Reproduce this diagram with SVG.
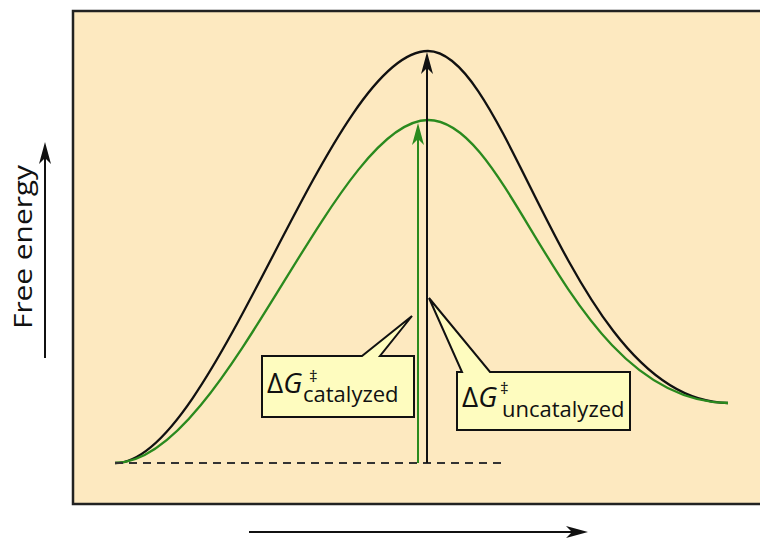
<svg xmlns="http://www.w3.org/2000/svg" width="760" height="538" viewBox="0 0 760 538">
<style>
.curve{fill:none;stroke-width:2.3}
.blk{stroke:#111}
.grn{stroke:#2a8a1e}
.box{fill:#fefcbf;stroke:#111;stroke-width:2;stroke-linejoin:miter}
.lbl{font-family:"Open Sans","Noto Sans","DejaVu Sans",sans-serif;fill:#111}
.axis{stroke:#111;stroke-width:2;fill:none}
</style>
<defs>
<marker id="ahBlack" markerUnits="userSpaceOnUse" viewBox="-24 -8 28 16" refX="-4" refY="0" markerWidth="28" markerHeight="16" orient="auto">
<path d="M0,0 L-22,-6 L-16,0 L-22,6 Z" fill="#111"/>
</marker>
<marker id="ahGreen" markerUnits="userSpaceOnUse" viewBox="-24 -8 28 16" refX="-4" refY="0" markerWidth="28" markerHeight="16" orient="auto">
<path d="M0,0 L-22,-6 L-16,0 L-22,6 Z" fill="#2a8a1e"/>
</marker>
</defs>
<rect width="760" height="538" fill="#ffffff"/>
<g id="panel">
<rect x="73" y="11" width="700" height="493" fill="#fde9c0" stroke="#222" stroke-width="2.5"/>
</g>
<g id="uncatalyzed-curve">
<path class="curve blk" d="M115,463 C215,463 330,51 428,51 C510,51 572,402 728,403"/>
</g>
<g id="catalyzed-curve">
<path class="curve grn" d="M115,463 C225,463 335,120 428,120 C515,120 566,401 728,403"/>
</g>
<g id="connectors">
<line x1="115" y1="463" x2="507" y2="463" stroke="#333" stroke-width="2" stroke-dasharray="8,6"/>
<line x1="418" y1="463" x2="418" y2="127" stroke="#2a8a1e" stroke-width="2" marker-end="url(#ahGreen)"/>
<line x1="427" y1="463" x2="427" y2="56" stroke="#111" stroke-width="2" marker-end="url(#ahBlack)"/>
</g>
<g id="callout-catalyzed">
<path class="box" d="M262,356 L362,356 L412,316 L380,356 L414,356 L414,417 L262,417 Z"/>
<text class="lbl" x="267" y="393" font-size="28">Δ<tspan font-style="italic">G</tspan><tspan x="309" dy="-11" font-size="17">‡</tspan><tspan x="303" dy="20" font-size="22">catalyzed</tspan></text>
</g>
<g id="callout-uncatalyzed">
<path class="box" d="M457,372 L462,372 L429,298 L490,372 L630,372 L630,430 L457,430 Z"/>
<text class="lbl" x="462" y="407" font-size="28">Δ<tspan font-style="italic">G</tspan><tspan x="500" dy="-13" font-size="17">‡</tspan><tspan x="502" dy="23" font-size="22">uncatalyzed</tspan></text>
</g>
<g id="axis-y">
<line class="axis" x1="45" y1="358" x2="45" y2="146" marker-end="url(#ahBlack)"/>
<text class="lbl" x="0" y="0" font-size="25" text-anchor="middle" textLength="164" lengthAdjust="spacingAndGlyphs" transform="translate(32,247) rotate(-90)">Free energy</text>
</g>
<g id="axis-x">
<line class="axis" x1="249" y1="532" x2="584" y2="532" marker-end="url(#ahBlack)"/>
</g>
</svg>
